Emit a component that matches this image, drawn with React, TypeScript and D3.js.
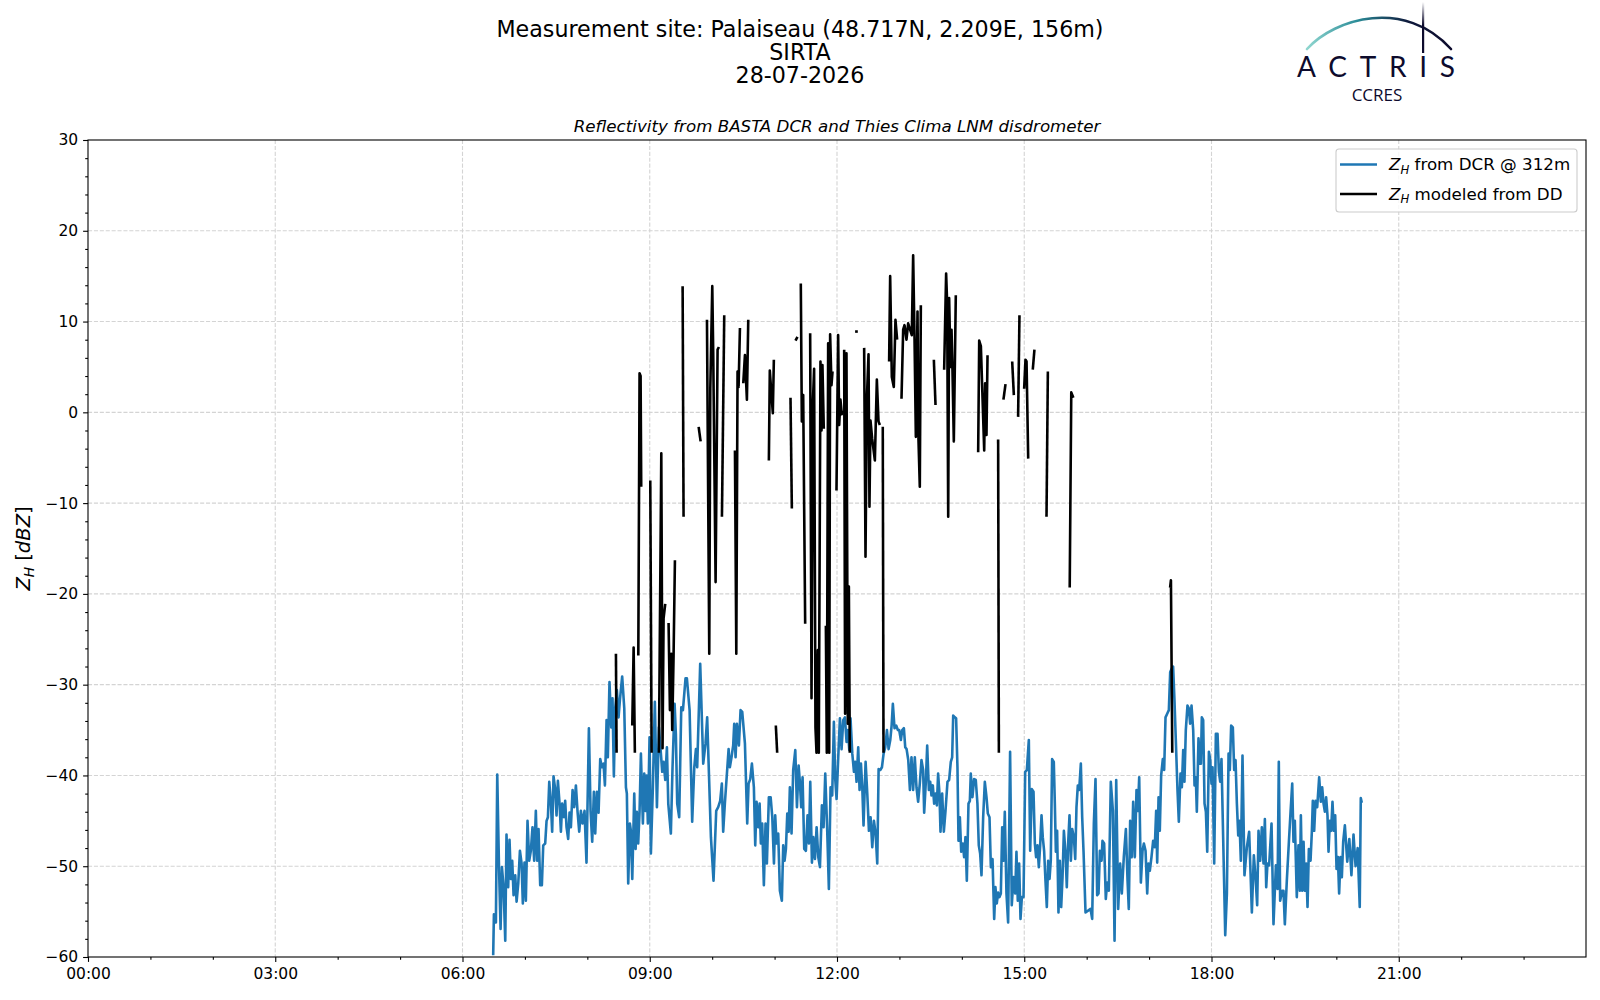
import { useEffect, useRef } from 'react'
import * as d3 from 'd3'

const titleLines = ['Measurement site: Palaiseau (48.717N, 2.209E, 156m)', 'SIRTA', '28-07-2026']
const subtitle = 'Reflectivity from BASTA DCR and Thies Clima LNM disdrometer'
const xTickMinutes = [0, 180, 360, 540, 720, 900, 1080, 1260]
const xTickLabels = ['00:00', '03:00', '06:00', '09:00', '12:00', '15:00', '18:00', '21:00']
const yTicks = [-60, -50, -40, -30, -20, -10, 0, 10, 20, 30]
const legendLabels = [' from DCR @ 312m', ' modeled from DD']

// [minutes since 00:00 UTC, dBZ]
const dcrZh: [number, number][] = [
  [389.5,-59.8],[390.2,-55.3],[392.1,-56.2],[393.4,-39.9],[395.0,-49.6],[396.6,-56.9],[397.9,-50.1],[399.5,-52.3],[401.1,-58.2],[402.3,-46.5],
  [403.9,-52.3],[405.2,-47.1],[406.5,-51.4],[407.8,-49.4],[409.1,-53.2],[410.7,-51.0],[412.0,-53.9],[413.6,-51.9],[415.2,-48.3],[416.8,-49.7],
  [418.0,-54.1],[419.6,-49.6],[420.9,-53.8],[422.5,-45.0],[424.1,-49.4],[425.7,-48.3],[427.3,-45.7],[428.9,-49.4],[430.5,-43.9],[431.8,-49.4],
  [433.1,-45.9],[434.7,-52.1],[436.3,-52.1],[437.6,-47.7],[439.5,-47.5],[440.8,-45.0],[442.1,-44.6],[443.4,-40.7],[445.0,-43.1],[446.2,-46.2],
  [447.5,-40.1],[449.1,-41.5],[450.4,-44.4],[451.7,-40.6],[453.3,-43.1],[454.6,-46.2],[455.8,-43.1],[457.5,-44.6],[458.7,-42.8],[460.0,-45.7],
  [461.6,-47.0],[462.9,-44.1],[464.2,-45.7],[465.8,-41.6],[467.4,-43.5],[469.0,-41.1],[470.6,-44.0],[472.2,-46.2],[473.8,-43.9],[475.4,-45.3],
  [477.3,-43.9],[479.2,-49.6],[481.5,-34.8],[483.1,-43.9],[484.7,-47.3],[486.3,-41.8],[487.6,-46.4],[489.2,-41.8],[490.8,-44.1],[492.4,-38.2],
  [494.0,-39.1],[495.6,-38.7],[496.9,-41.1],[498.5,-33.9],[499.7,-38.0],[501.3,-29.7],[503.0,-34.7],[504.2,-31.5],[505.5,-40.1],[506.8,-32.6],
  [508.4,-30.6],[510.0,-33.6],[511.3,-31.7],[513.5,-29.1],[515.5,-32.6],[517.1,-41.3],[518.0,-42.0],[519.3,-51.9],[520.9,-45.3],[521.9,-46.1],
  [523.2,-51.4],[525.1,-42.0],[526.4,-48.1],[527.6,-44.0],[528.9,-47.5],[530.2,-44.0],[531.5,-37.6],[533.4,-45.3],[534.7,-39.8],[536.0,-43.9],
  [536.9,-40.0],[538.2,-45.3],[539.8,-35.8],[541.1,-48.6],[543.0,-41.3],[544.9,-31.9],[546.9,-43.5],[548.8,-34.7],[550.4,-37.1],[552.0,-39.6],
  [553.3,-38.5],[554.9,-40.5],[556.5,-36.9],[557.8,-43.1],[560.3,-46.4],[561.9,-39.1],[563.9,-32.1],[565.1,-35.4],[566.4,-43.1],[568.3,-44.6],
  [570.3,-32.5],[571.9,-32.8],[574.4,-29.3],[575.7,-29.3],[578.3,-32.8],[580.8,-45.1],[582.8,-39.1],[584.4,-37.1],[585.6,-39.1],[588.5,-27.7],
  [591.4,-38.7],[593.6,-36.5],[595.2,-33.6],[596.9,-39.8],[598.8,-46.8],[601.3,-51.6],[603.9,-43.9],[605.8,-43.5],[607.7,-42.8],[609.3,-40.9],
  [610.6,-46.2],[612.2,-43.1],[615.8,-37.1],[617.0,-39.1],[618.6,-38.0],[620.2,-36.7],[621.2,-34.3],[622.5,-38.0],[623.8,-34.3],[625.7,-36.7],
  [627.3,-32.8],[628.9,-33.0],[631.5,-36.5],[633.7,-45.3],[635.0,-40.9],[636.6,-40.4],[638.2,-38.7],[640.1,-41.3],[641.4,-47.7],[642.7,-42.9],
  [644.3,-45.7],[645.6,-43.1],[646.8,-47.5],[648.1,-45.3],[649.7,-52.1],[651.3,-45.3],[652.6,-49.7],[654.5,-42.4],[656.2,-42.4],[657.8,-44.6],
  [659.4,-49.7],[660.6,-44.4],[661.9,-47.5],[663.5,-46.4],[665.1,-52.7],[667.0,-53.8],[668.3,-47.7],[669.6,-49.4],[670.9,-48.1],[672.2,-44.2],
  [673.5,-46.2],[674.7,-41.3],[676.3,-46.4],[677.9,-39.4],[679.9,-37.2],[681.5,-43.5],[683.1,-38.9],[684.3,-40.7],[685.6,-43.5],[686.9,-40.2],
  [688.5,-48.1],[690.1,-48.3],[691.7,-44.4],[693.0,-47.5],[694.3,-40.7],[695.9,-49.6],[697.2,-46.8],[698.8,-49.2],[700.4,-45.7],[702.0,-49.0],
  [703.6,-50.1],[705.5,-43.3],[707.1,-45.7],[708.7,-39.8],[710.6,-46.1],[712.2,-52.5],[713.8,-41.3],[715.4,-42.2],[717.0,-34.1],[718.3,-40.4],
  [719.6,-42.6],[721.2,-38.0],[722.8,-33.7],[724.4,-37.1],[726.0,-33.9],[727.6,-33.6],[729.2,-36.3],[730.5,-35.0],[731.8,-37.2],[733.0,-33.7],
  [734.7,-37.6],[736.3,-39.6],[737.5,-38.5],[738.8,-40.7],[740.4,-36.9],[741.7,-41.6],[743.0,-38.7],[744.3,-41.3],[745.5,-45.5],[747.5,-38.5],
  [749.1,-42.0],[750.7,-46.1],[752.3,-44.6],[753.9,-47.9],[755.5,-45.0],[757.1,-46.4],[758.7,-49.7],[760.0,-39.3],[761.6,-39.4],[763.2,-39.1],
  [764.8,-37.6],[766.4,-36.9],[768.0,-35.0],[769.6,-37.1],[771.2,-36.1],[772.5,-34.5],[773.7,-32.1],[775.3,-34.8],[776.9,-34.5],[778.5,-35.0],
  [779.8,-35.0],[781.4,-36.1],[782.7,-35.0],[784.3,-34.8],[785.6,-36.9],[786.9,-37.1],[788.5,-38.3],[790.1,-41.6],[791.6,-38.0],[793.2,-41.6],
  [794.8,-38.0],[796.4,-41.3],[798.0,-42.9],[799.6,-40.9],[801.2,-38.3],[802.8,-39.4],[803.8,-44.1],[805.4,-40.7],[806.7,-36.7],[808.3,-41.6],
  [809.6,-40.7],[810.8,-42.2],[812.1,-41.1],[813.4,-43.1],[814.7,-42.0],[816.0,-43.3],[817.2,-39.8],[818.5,-42.0],[819.5,-46.2],[821.1,-42.0],
  [822.7,-46.2],[824.3,-43.9],[826.2,-40.7],[827.8,-40.5],[829.4,-38.5],[830.7,-38.0],[831.7,-33.4],[833.3,-33.6],[834.5,-33.7],[835.8,-39.1],
  [836.8,-47.2],[838.1,-44.6],[839.4,-48.4],[841.0,-47.5],[842.2,-49.0],[843.5,-46.8],[844.8,-51.6],[846.4,-43.1],[847.7,-42.8],[848.6,-39.8],
  [850.2,-42.4],[851.8,-40.4],[853.4,-40.5],[855.0,-43.1],[856.3,-47.7],[857.6,-48.6],[858.9,-51.0],[860.5,-44.6],[862.1,-40.7],[863.7,-42.4],
  [865.0,-44.2],[866.6,-44.6],[867.9,-50.1],[869.5,-49.2],[871.1,-55.8],[872.3,-52.3],[873.6,-54.1],[874.9,-52.9],[876.2,-53.4],[877.5,-53.0],
  [878.8,-45.7],[880.0,-49.4],[881.3,-44.0],[882.9,-53.0],[884.5,-56.2],[886.4,-37.4],[888.0,-54.3],[889.7,-51.2],[891.3,-53.0],[892.5,-48.4],
  [893.8,-53.8],[895.1,-49.7],[896.4,-55.8],[897.7,-53.4],[899.3,-53.4],[900.9,-39.6],[902.5,-39.4],[904.4,-36.1],[905.7,-48.3],[907.3,-41.5],
  [908.9,-41.8],[910.2,-47.5],[911.4,-49.0],[912.7,-47.7],[914.0,-50.1],[915.3,-47.7],[916.6,-44.4],[917.8,-46.8],[919.1,-48.3],[920.4,-51.6],
  [921.7,-54.5],[923.0,-49.4],[924.3,-51.4],[925.5,-49.4],[926.8,-38.2],[928.4,-38.5],[929.4,-43.1],[930.4,-48.4],[931.6,-46.1],[932.9,-55.1],
  [934.2,-49.4],[935.5,-54.5],[936.8,-51.2],[938.1,-46.1],[939.7,-48.6],[940.9,-52.3],[942.2,-47.5],[943.5,-44.4],[944.8,-49.4],[946.1,-45.9],
  [947.7,-46.8],[949.0,-49.2],[950.2,-43.5],[951.5,-41.1],[952.8,-41.6],[954.4,-38.7],[955.7,-44.6],[957.0,-48.4],[958.9,-55.1],[963.7,-54.7],
  [965.3,-55.8],[966.9,-45.3],[968.5,-40.4],[970.1,-53.2],[971.4,-53.0],[972.7,-48.3],[974.3,-49.4],[975.2,-47.2],[976.8,-47.5],[978.4,-53.6],
  [979.7,-51.8],[981.3,-52.7],[983.2,-40.7],[985.2,-43.9],[986.8,-58.2],[988.4,-40.5],[990.3,-54.7],[992.2,-49.7],[993.8,-53.0],[995.7,-49.0],
  [997.7,-45.9],[999.3,-51.6],[1000.5,-54.7],[1001.8,-45.0],[1003.4,-49.0],[1004.7,-42.9],[1006.3,-49.0],[1007.9,-41.6],[1009.2,-43.9],[1010.5,-40.2],
  [1012.1,-51.8],[1013.7,-48.3],[1015.0,-47.5],[1016.6,-48.3],[1018.2,-53.0],[1019.4,-49.7],[1020.7,-50.5],[1022.3,-49.0],[1023.9,-47.2],[1025.5,-47.9],
  [1026.8,-43.9],[1027.8,-49.6],[1029.1,-42.4],[1030.3,-46.1],[1031.6,-40.0],[1033.2,-38.2],[1034.5,-39.4],[1035.8,-33.6],[1037.4,-33.2],[1039.0,-32.8],
  [1040.3,-28.6],[1041.9,-28.2],[1043.1,-28.0],[1044.4,-31.7],[1045.7,-36.1],[1047.3,-41.6],[1048.6,-45.1],[1050.2,-39.8],[1051.5,-41.3],[1052.8,-37.2],
  [1054.0,-40.7],[1055.3,-35.0],[1056.9,-32.3],[1058.2,-32.6],[1059.5,-34.3],[1060.8,-32.3],[1062.4,-35.0],[1063.7,-41.1],[1064.9,-40.2],[1065.9,-44.0],
  [1067.5,-35.9],[1068.8,-38.7],[1069.8,-38.7],[1070.7,-33.6],[1072.0,-33.9],[1073.3,-43.1],[1074.6,-44.0],[1075.9,-48.4],[1077.5,-37.4],[1078.7,-38.2],
  [1080.0,-40.9],[1081.0,-39.1],[1082.6,-49.7],[1084.2,-35.4],[1085.8,-35.4],[1087.1,-39.6],[1088.4,-40.7],[1089.6,-38.2],[1091.2,-46.8],[1093.2,-57.6],
  [1094.8,-53.0],[1096.4,-37.6],[1097.6,-39.4],[1098.9,-34.5],[1100.5,-34.7],[1101.8,-39.4],[1103.1,-38.3],[1104.4,-43.1],[1105.7,-46.6],[1106.9,-45.0],
  [1108.2,-49.4],[1109.8,-37.8],[1111.7,-51.0],[1114.0,-47.9],[1116.2,-46.2],[1118.8,-55.1],[1120.7,-48.8],[1122.3,-51.2],[1123.9,-54.3],[1125.2,-46.1],
  [1126.8,-49.4],[1128.4,-45.7],[1130.0,-49.7],[1131.3,-44.8],[1132.6,-52.3],[1133.8,-49.7],[1135.4,-49.9],[1137.7,-45.3],[1139.6,-56.4],[1141.9,-49.9],
  [1143.5,-52.5],[1144.7,-38.5],[1146.0,-53.8],[1147.9,-52.7],[1149.2,-52.7],[1150.5,-56.4],[1152.4,-51.6],[1154.4,-47.3],[1156.0,-44.0],[1157.6,-40.9],
  [1158.8,-47.3],[1160.1,-45.0],[1162.0,-53.4],[1163.6,-47.7],[1164.9,-52.7],[1165.9,-44.4],[1167.2,-52.7],[1168.5,-47.3],[1169.7,-52.7],[1171.0,-49.7],
  [1172.3,-54.5],[1173.6,-48.1],[1175.2,-49.4],[1176.5,-46.1],[1177.4,-42.8],[1178.7,-46.1],[1180.0,-42.8],[1181.6,-43.5],[1183.5,-40.2],[1185.1,-42.9],
  [1186.4,-41.3],[1187.7,-43.1],[1189.0,-44.0],[1190.2,-42.4],[1191.5,-44.4],[1192.5,-48.4],[1193.8,-45.0],[1195.0,-46.1],[1196.3,-42.9],[1197.6,-46.1],
  [1198.9,-44.4],[1200.2,-50.3],[1201.5,-49.0],[1202.7,-53.0],[1204.0,-49.0],[1205.3,-51.2],[1206.6,-47.3],[1208.2,-45.5],[1210.5,-49.5],[1212.5,-47.0],
  [1214.5,-51.0],[1216.5,-46.5],[1218.5,-50.0],[1220.5,-48.0],[1222.5,-54.5],[1223.5,-42.5],[1224.5,-43.0],
]

// disdrometer-modelled reflectivity, broken into the segments where rain was detected
const ddZh: [number, number][][] = [
  [[507.5,-26.6],[508.1,-37.5]],
  [[523.2,-34.5],[524.5,-25.9],[525.7,-37.5]],
  [[529.0,-26.8],[530.2,4.3],[531.2,4.0],[531.8,-8.2]],
  [[540.5,-7.5],[541.8,-37.5]],
  [[548.8,-37.5],[551.1,-4.5],[552.3,-37.0],[553.3,-22.7],[554.9,-21.1]],
  [[558.1,-23.2],[559.4,-32.8],[560.7,-26.6],[561.6,-35.0],[562.9,-26.8],[564.2,-16.3]],
  [[571.6,13.9],[572.5,-11.5]],
  [[587.0,-1.6],[588.9,-3.2]],
  [[595.0,10.2],[597.2,-26.6],[598.2,2.6],[600.1,13.9],[601.0,6.7],[603.3,-18.7],[605.2,6.9],[606.5,7.2]],
  [[609.4,-11.5],[611.6,10.7]],
  [[621.9,-4.2],[623.2,-26.6],[624.4,4.5],[625.4,2.8],[626.7,9.3]],
  [[629.9,3.2],[631.5,6.3],[633.4,1.4],[634.7,10.2]],
  [[654.5,-5.3],[655.4,4.6],[658.3,-0.1],[659.3,5.8]],
  [[661.2,-34.5],[662.5,-37.5]],
  [[675.3,1.6],[676.6,-10.6]],
  [[680.1,7.9],[682.0,8.3]],
  [[685.2,14.2],[686.2,-1.0],[687.5,1.9],[689.4,-23.3]],
  [[694.2,8.7],[695.5,-31.5],[696.8,1.0],[698.0,4.8],[699.3,-34.7],[700.3,-37.5],[701.6,-26.2],[702.5,-37.5],[704.1,5.6],[705.1,-2.0],[706.0,5.2],[707.3,-1.8]],
  [[709.3,-23.5],[710.2,-37.5],[711.5,7.6],[712.5,-37.5],[713.4,8.6],[714.7,3.0],[715.7,4.5]],
  [[719.5,-8.6],[721.1,8.5],[722.1,-1.4],[723.3,1.4],[724.6,-0.2],[725.6,0.2]],
  [[726.9,6.9],[727.8,-33.2],[729.1,6.5],[730.4,-34.3],[731.4,-19.2],[732.3,-37.5]],
  [[737.4,8.9],[740.0,8.9]],
  [[746.1,7.1],[747.4,-15.9],[748.7,1.4],[750.3,6.4],[751.2,-10.4],[752.2,-0.9],[753.8,-2.9],[756.4,-5.3],[758.3,3.6],[759.9,-1.0],[761.2,-1.4]],
  [[764.0,-1.6],[764.7,-37.5]],
  [[770.1,5.6],[771.1,15.0],[772.7,3.9],[774.6,2.8],[776.2,10.2],[777.8,8.0]],
  [[782.0,1.5],[783.6,9.1],[784.9,9.6],[786.8,8.0],[788.4,9.8],[791.9,8.5],[793.2,17.3],[794.5,8.3],[795.8,-2.7],[797.4,11.1],[798.3,-2.9],[799.6,-8.2],[800.6,11.8]],
  [[813.1,5.8],[814.7,0.8]],
  [[823.0,4.7],[824.9,15.3],[825.9,12.0],[826.9,-11.5],[827.8,12.6],[829.1,5.0],[830.1,9.1],[831.0,4.7],[832.3,-3.2],[834.2,12.9]],
  [[855.7,-4.4],[856.7,7.9],[858.3,7.3],[861.5,-4.2],[862.4,3.2],[863.7,-2.5],[864.7,6.3]],
  [[874.9,-3.0],[875.6,-37.5]],
  [[880.0,1.4],[882.0,3.1]],
  [[888.4,5.6],[890.0,1.9]],
  [[894.1,-0.5],[895.4,10.7]],
  [[899.9,2.6],[901.2,5.8],[902.2,5.6],[903.8,-5.1]],
  [[908.2,4.7],[909.8,6.9]],
  [[921.4,-11.5],[922.7,4.5]],
  [[943.7,-19.3],[945.2,2.2],[947.2,1.6]],
  [[1040.2,-19.3],[1041.0,-18.5],[1042.3,-37.5]],
]

const FONT = 'DejaVu Sans, Verdana, sans-serif'
const W = 1600
const H = 1000
const margin = { top: 140, right: 14, bottom: 43, left: 88 }

export default function App() {
  const svgRef = useRef<SVGSVGElement>(null)

  useEffect(() => {
    if (!svgRef.current) return
    const svg = d3.select(svgRef.current)
    svg.selectAll('*').remove()

    const innerWidth = W - margin.left - margin.right
    const innerHeight = H - margin.top - margin.bottom

    const x = d3.scaleLinear().domain([0, 1440]).range([0, innerWidth])
    const y = d3.scaleLinear().domain([-60, 30]).range([innerHeight, 0])

    // Header text
    titleLines.forEach((t, i) => {
      svg.append('text')
        .attr('x', W / 2)
        .attr('y', 36.5 + i * 23)
        .attr('text-anchor', 'middle')
        .attr('font-family', FONT)
        .attr('font-size', 22.2)
        .attr('fill', '#000')
        .text(t)
    })

    // ACTRIS CCRES logo
    const defs = svg.append('defs')
    const arcGrad = defs.append('linearGradient').attr('id', 'arcGrad')
      .attr('x1', '0%').attr('x2', '100%').attr('y1', '0%').attr('y2', '0%')
    arcGrad.append('stop').attr('offset', '0%').attr('stop-color', '#8fd6cf')
    arcGrad.append('stop').attr('offset', '35%').attr('stop-color', '#2b8c98')
    arcGrad.append('stop').attr('offset', '70%').attr('stop-color', '#0f1a3c')
    arcGrad.append('stop').attr('offset', '100%').attr('stop-color', '#0d0b2d')
    const barGrad = defs.append('linearGradient').attr('id', 'barGrad')
      .attr('x1', '0%').attr('x2', '0%').attr('y1', '0%').attr('y2', '100%')
    barGrad.append('stop').attr('offset', '0%').attr('stop-color', '#ffffff')
    barGrad.append('stop').attr('offset', '45%').attr('stop-color', '#0d0b2d')
    barGrad.append('stop').attr('offset', '100%').attr('stop-color', '#0d0b2d')

    const logo = svg.append('g')
    logo.append('path')
      .attr('d', 'M1307,49 C1335,18 1405,-2 1451,49')
      .attr('fill', 'none')
      .attr('stroke', 'url(#arcGrad)')
      .attr('stroke-width', 2.6)
      .attr('stroke-linecap', 'round')
    logo.append('rect')
      .attr('x', 1422).attr('y', 2).attr('width', 2.2).attr('height', 51)
      .attr('fill', 'url(#barGrad)')
    logo.append('text')
      .attr('x', 1297).attr('y', 77)
      .attr('textLength', 158).attr('lengthAdjust', 'spacing')
      .attr('font-family', 'Lato, Open Sans, sans-serif')
      .attr('font-size', 28)
      .attr('fill', '#0d0b2d')
      .text('ACTRIS')
    logo.append('text')
      .attr('x', 1377).attr('y', 100.5)
      .attr('text-anchor', 'middle')
      .attr('font-family', 'Open Sans, Lato, sans-serif')
      .attr('font-size', 17)
      .attr('fill', '#0d0b2d')
      .text('CCRES')

    const g = svg.append('g').attr('transform', `translate(${margin.left},${margin.top})`)

    defs.append('clipPath').attr('id', 'plotClip')
      .append('rect').attr('width', innerWidth).attr('height', innerHeight)

    // Grid
    const grid = g.append('g')
    grid.selectAll('.gx')
      .data(xTickMinutes.slice(1))
      .join('line')
      .attr('x1', d => x(d)).attr('x2', d => x(d))
      .attr('y1', 0).attr('y2', innerHeight)
    grid.selectAll('.gy')
      .data(yTicks.slice(1, -1))
      .join('line')
      .attr('x1', 0).attr('x2', innerWidth)
      .attr('y1', d => y(d)).attr('y2', d => y(d))
    grid.selectAll('line')
      .attr('stroke', '#d4d4d4')
      .attr('stroke-width', 1.1)
      .attr('stroke-dasharray', '4.1,1.8')

    // Series
    const line = d3.line<[number, number]>()
      .x(d => x(d[0]))
      .y(d => y(d[1]))

    const plot = g.append('g').attr('clip-path', 'url(#plotClip)')
    plot.append('path')
      .datum(dcrZh)
      .attr('fill', 'none')
      .attr('stroke', '#1f77b4')
      .attr('stroke-width', 2.6)
      .attr('stroke-linejoin', 'round')
      .attr('d', line)

    plot.selectAll('.dd')
      .data(ddZh)
      .join('path')
      .attr('fill', 'none')
      .attr('stroke', '#000')
      .attr('stroke-width', 2.6)
      .attr('stroke-linejoin', 'round')
      .attr('d', line)

    // Axes
    const styleAxis = (sel: d3.Selection<SVGGElement, unknown, null, undefined>) => {
      sel.select('.domain').remove()
      sel.selectAll('line').attr('stroke', '#000').attr('stroke-width', 1.1)
      sel.selectAll('text').attr('font-family', FONT).attr('font-size', 15.5).attr('fill', '#000')
    }

    const xMinor = d3.range(0, 1441, 60).filter(m => m % 180 !== 0)
    g.append('g')
      .attr('transform', `translate(0,${innerHeight})`)
      .call(d3.axisBottom(x).tickValues(xMinor).tickSize(2.8).tickFormat(() => ''))
      .call(styleAxis)
    g.append('g')
      .attr('transform', `translate(0,${innerHeight})`)
      .call(d3.axisBottom(x).tickValues(xTickMinutes).tickSize(4.9).tickPadding(6.5)
        .tickFormat((_, i) => xTickLabels[i]))
      .call(styleAxis)

    const yMinor = d3.range(-60, 31, 2).filter(v => v % 10 !== 0)
    g.append('g')
      .call(d3.axisLeft(y).tickValues(yMinor).tickSize(2.8).tickFormat(() => ''))
      .call(styleAxis)
    g.append('g')
      .call(d3.axisLeft(y).tickValues(yTicks).tickSize(4.9).tickPadding(4.9)
        .tickFormat(d => (+d < 0 ? '\u2212' + Math.abs(+d) : String(d))))
      .call(styleAxis)

    // Spines
    g.append('rect')
      .attr('width', innerWidth)
      .attr('height', innerHeight)
      .attr('fill', 'none')
      .attr('stroke', '#000')
      .attr('stroke-width', 1.1)

    // Axes title
    g.append('text')
      .attr('x', innerWidth / 2)
      .attr('y', -8.5)
      .attr('text-anchor', 'middle')
      .attr('font-family', FONT)
      .attr('font-style', 'italic')
      .attr('font-size', 16.7)
      .attr('fill', '#000')
      .text(subtitle)

    // Y label (mathtext-like)
    const yl = svg.append('text')
      .attr('transform', `translate(29.5,${margin.top + innerHeight / 2}) rotate(-90)`)
      .attr('text-anchor', 'middle')
      .attr('font-family', FONT)
      .attr('font-size', 19.5)
      .attr('fill', '#000')
    yl.append('tspan').attr('font-style', 'italic').text('Z')
    yl.append('tspan').attr('font-style', 'italic').attr('font-size', 13.7).attr('dy', 4).text('H')
    yl.append('tspan').attr('dy', -4).text(' [')
    yl.append('tspan').attr('font-style', 'italic').text('dBZ')
    yl.append('tspan').text(']')

    // Legend
    const lg = svg.append('g')
    lg.append('rect')
      .attr('x', 1336).attr('y', 149).attr('width', 241).attr('height', 63)
      .attr('rx', 3)
      .attr('fill', '#fff').attr('fill-opacity', 0.8)
      .attr('stroke', '#cccccc').attr('stroke-width', 1.1)
    const legendColors = ['#1f77b4', '#000']
    legendLabels.forEach((lab, i) => {
      const cy = 164.5 + i * 29.5
      lg.append('line')
        .attr('x1', 1340).attr('x2', 1377)
        .attr('y1', cy).attr('y2', cy)
        .attr('stroke', legendColors[i]).attr('stroke-width', 2.6)
      const t = lg.append('text')
        .attr('x', 1389).attr('y', cy + 5.8)
        .attr('font-family', FONT).attr('font-size', 16.7).attr('fill', '#000')
      t.append('tspan').attr('font-style', 'italic').text('Z')
      t.append('tspan').attr('font-style', 'italic').attr('font-size', 11.7).attr('dy', 3.5).text('H')
      t.append('tspan').attr('dy', -3.5).text(lab)
    })
  }, [])

  return (
    <svg
      ref={svgRef}
      width={W}
      height={H}
      style={{ position: 'absolute', left: 0, top: 0, background: '#fff', display: 'block' }}
    />
  )
}
